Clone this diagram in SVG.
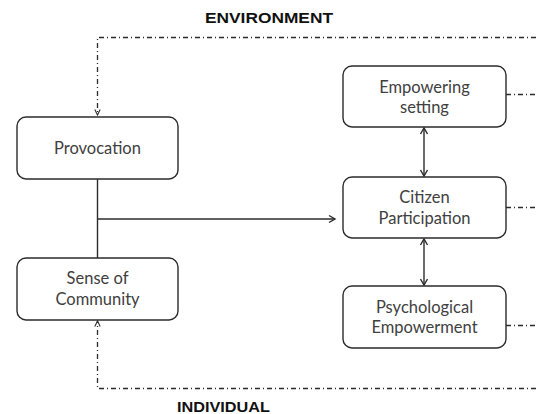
<svg xmlns="http://www.w3.org/2000/svg" width="536" height="414" viewBox="0 0 536 414">
<defs>
<style>
.box{fill:#fff;stroke:#2b2b2b;stroke-width:1.4}
.lbl{font-family:Lato,"Liberation Sans",sans-serif;font-size:16.5px;fill:#404040;text-anchor:middle}
.head{font-family:"Liberation Sans",Arial,sans-serif;font-size:14px;font-weight:bold;fill:#111}
.solid{fill:none;stroke:#2b2b2b;stroke-width:1.4}
.dash{fill:none;stroke:#2b2b2b;stroke-width:1.3;stroke-dasharray:5 3 1 3}
</style>
<marker id="ah" markerUnits="userSpaceOnUse" markerWidth="10" markerHeight="10" refX="7" refY="4" orient="auto-start-reverse" viewBox="0 0 10 8">
<path d="M1,0.5 L7,4 L1,7.5" fill="none" stroke="#2b2b2b" stroke-width="1.4"/>
</marker>
<marker id="ahs" markerUnits="userSpaceOnUse" markerWidth="9" markerHeight="9" refX="7" refY="4" orient="auto" viewBox="0 0 10 8">
<path d="M1,1 L7,4 L1,7" fill="none" stroke="#2b2b2b" stroke-width="1.2"/>
</marker>
</defs>
<rect width="536" height="414" fill="#fff"/>
<text class="head" x="205" y="23" textLength="128" lengthAdjust="spacingAndGlyphs">ENVIRONMENT</text>
<text class="head" x="177" y="412" textLength="93" lengthAdjust="spacingAndGlyphs">INDIVIDUAL</text>
<g id="connectors">
<path class="dash" d="M536,37.5 H97.5 V115" marker-end="url(#ahs)"/>
<path class="dash" d="M536,388.5 H97.5 V321" marker-end="url(#ahs)"/>
<path class="dash" d="M506,94.5 H536"/>
<path class="dash" d="M506,207.5 H536"/>
<path class="dash" d="M506,325.5 H536"/>
<path class="solid" d="M97.5,179 V258"/>
<path class="solid" d="M97.5,219 H335" marker-end="url(#ah)"/>
<path class="solid" d="M424,128 V176" marker-start="url(#ah)" marker-end="url(#ah)"/>
<path class="solid" d="M424,239 V285" marker-start="url(#ah)" marker-end="url(#ah)"/>
</g>
<g id="provocation">
<rect class="box" x="17" y="117" width="161" height="62" rx="9"/>
<text class="lbl" x="97.5" y="154">Provocation</text>
</g>
<g id="sense-of-community">
<rect class="box" x="17" y="258" width="161" height="62" rx="9"/>
<text class="lbl" x="97.5" y="284">Sense of</text>
<text class="lbl" x="97.5" y="305">Community</text>
</g>
<g id="empowering-setting">
<rect class="box" x="343" y="66" width="163" height="61" rx="9"/>
<text class="lbl" x="424.5" y="93">Empowering</text>
<text class="lbl" x="424.5" y="113">setting</text>
</g>
<g id="citizen-participation">
<rect class="box" x="343" y="177" width="163" height="61" rx="9"/>
<text class="lbl" x="424.5" y="203">Citizen</text>
<text class="lbl" x="424.5" y="224">Participation</text>
</g>
<g id="psychological-empowerment">
<rect class="box" x="343" y="286" width="163" height="62" rx="9"/>
<text class="lbl" x="424.5" y="313">Psychological</text>
<text class="lbl" x="424.5" y="333">Empowerment</text>
</g>
</svg>
